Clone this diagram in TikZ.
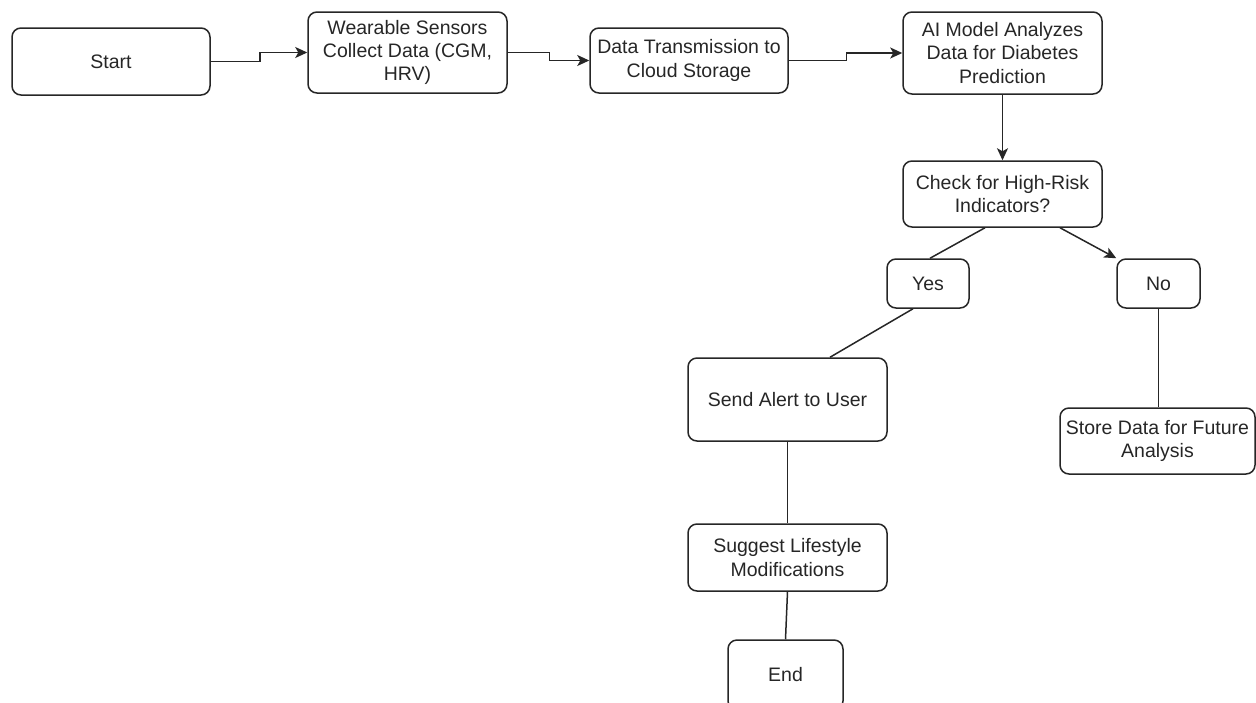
\documentclass[tikz,border=0pt]{standalone}
\usepackage{fontspec}
\setmainfont{Liberation Sans}
\usepackage{xcolor}
\usetikzlibrary{arrows.meta}

\begin{document}
\begin{tikzpicture}[x=1pt, y=-1pt,
    box/.style={draw=black!85, line width=1.5pt, rounded corners=9pt, align=center, inner sep=0pt, text=black!85, font=\fontsize{19.5}{23.4}\selectfont},
    link/.style={draw=black!85, line width=1.5pt},
    arr/.style={link, -{Stealth[length=12pt, width=11pt, inset=3pt]}}]
    \useasboundingbox (0,0) rectangle (1256,702);

    \node[box, minimum width=198pt, minimum height=67pt] (start) at (111,61.5) {Start};
    \node[box, minimum width=199pt, minimum height=81pt] (sensors) at (407.5,52.5) {Wearable Sensors\\Collect Data (CGM,\\HRV)};
    \node[box, minimum width=198pt, minimum height=65pt] (trans) at (689,60.5) {Data Transmission to\\Cloud Storage};
    \node[box, minimum width=199pt, minimum height=82pt] (model) at (1002.5,53) {AI Model Analyzes\\Data for Diabetes\\Prediction};
    \node[box, minimum width=199pt, minimum height=66pt] (check) at (1002.5,194) {Check for High-Risk\\Indicators?};
    \node[box, minimum width=82pt, minimum height=49pt] (yes) at (928,283.5) {Yes};
    \node[box, minimum width=83pt, minimum height=49pt] (no) at (1158.5,283.5) {No};
    \node[box, minimum width=199pt, minimum height=83pt] (alert) at (787.5,399.5) {Send Alert to User};
    \node[box, minimum width=195pt, minimum height=66pt] (store) at (1157.5,441) {Store Data for Future\\Analysis};
    \node[box, minimum width=199pt, minimum height=67pt] (suggest) at (787.5,557.5) {Suggest Lifestyle\\Modifications};
    \node[box, minimum width=115pt, minimum height=70pt] (end) at (785.5,675) {End};

    \draw[arr] (start.east) -- ++(49,0) |- (sensors.west);
    \draw[arr] (sensors.east) -- ++(41.5,0) |- (trans.west);
    \draw[arr] (trans.east) -- ++(57.5,0) |- (model.west);
    \draw[arr] (model.south) -- (check.north);
    \draw[link] ([xshift=-17.5pt]check.south) -- ([xshift=2pt]yes.north);
    \draw[arr] ([xshift=57.5pt]check.south) -- (no.north west);
    \draw[link] ([xshift=-15pt]yes.south) -- ([xshift=42.5pt]alert.north);
    \draw[link] (no.south) -- (no.south |- store.north);
    \draw[link] (alert.south) -- (suggest.north);
    \draw[link] (suggest.south) -- (end.north);
\end{tikzpicture}
\end{document}
